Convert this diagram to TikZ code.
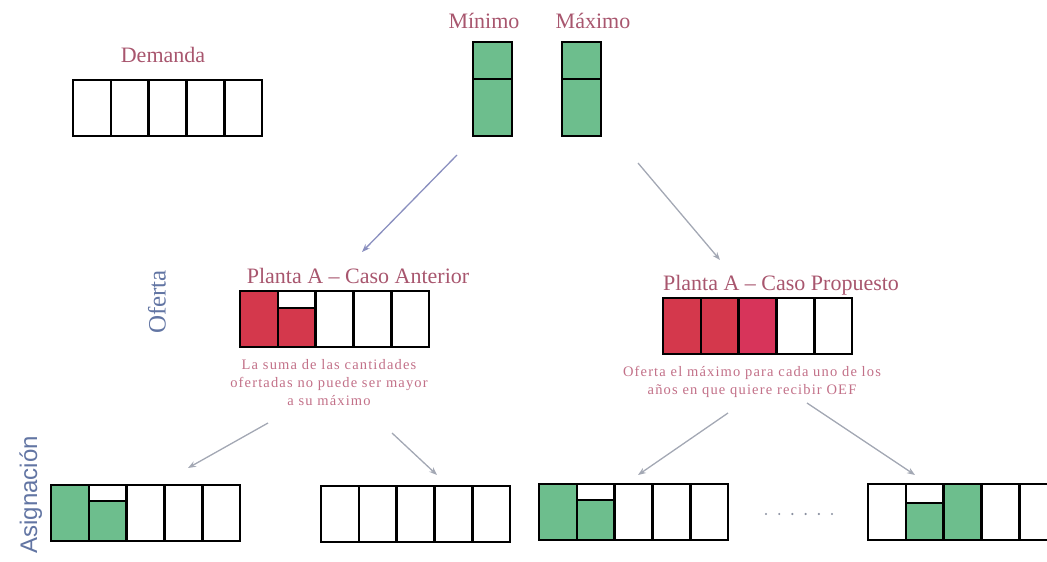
\documentclass[tikz,border=0pt]{standalone}
\usepackage{fontspec}
\setmainfont{Liberation Serif}
\setsansfont{Liberation Sans}
\newfontfamily\notefont[LetterSpace=8]{Liberation Serif}
\usetikzlibrary{arrows.meta,calc}

\definecolor{labelrose}{HTML}{A8566E}
\definecolor{noterose}{HTML}{C27088}
\definecolor{axisblue}{HTML}{6275A3}
\definecolor{cellgreen}{HTML}{6DBE8D}
\definecolor{cellred}{HTML}{D4384C}
\definecolor{arrowgray}{HTML}{A3A8B4}
\definecolor{dotgray}{HTML}{8A90A0}

\tikzset{
  cellline/.style={line width=2.6pt, black},
  strip/.style={draw, cellline, minimum width=189pt, minimum height=56pt,
                inner sep=0pt, outer sep=0pt, anchor=north west},
  column/.style={draw, cellline, minimum width=39pt, minimum height=94pt,
                inner sep=0pt, outer sep=0pt, anchor=north west},
  flow/.style={arrowgray, line width=1.3pt, -{Stealth[length=8pt,width=6pt]}},
  title/.style={text=labelrose, font=\fontsize{22}{25}\selectfont, inner sep=0pt, anchor=base},
  note/.style={text=noterose, font=\notefont\fontsize{14.5}{18}\selectfont,
               align=center, inner sep=0pt, anchor=north},
  axis/.style={text=axisblue, rotate=90, inner sep=0pt},
}

% five-cell strip: name, x and y of its top-left corner
\newcommand\cellstrip[3]{%
  \node[strip] (#1) at (#2,#3) {};
  \foreach \k in {1,...,4}
    \draw[cellline] ($(#1.north west)+(\k*37.8,0)$) -- ($(#1.south west)+(\k*37.8,0)$);
}
% filled cell: colour, strip x, strip y, cell number, empty space above the fill
\newcommand\fillcell[5]{%
  \fill[#1] ({#2+(#4-1)*37.8},{#3+#5}) rectangle ({#2+#4*37.8},{#3+56});
}
% level mark on top of a partly filled cell
\newcommand\levelmark[4]{%
  \draw[cellline] ({#1+(#3-1)*37.8},{#2+#4}) -- ({#1+#3*37.8},{#2+#4});
}

\begin{document}
\begin{tikzpicture}[x=1pt,y=-1pt]
\useasboundingbox (0,0) rectangle (1047,562);
\clip (0,0) rectangle (1047,562);

% demand
\node[title] (demlabel) at (163,62) {Demanda};
\cellstrip{demanda}{73}{80}

% minimum and maximum
\node[title] (minlabel) at (484,28) {Mínimo};
\node[title] (maxlabel) at (593,28) {Máximo};
\fill[cellgreen] (473,42) rectangle (512,136);
\fill[cellgreen] (562,42) rectangle (601,136);
\node[column] (minimo) at (473,42) {};
\node[column] (maximo) at (562,42) {};
\draw[cellline] (minimo.west |- 0,79) -- (minimo.east |- 0,79);
\draw[cellline] (maximo.west |- 0,79) -- (maximo.east |- 0,79);

% offer, previous case
\node[axis, font=\fontsize{25}{28}\selectfont] (oferta) at (157,302) {Oferta};
\node[title] (antlabel) at (358,283) {Planta A -- Caso Anterior};
\fillcell{cellred}{240}{291}{1}{0}
\fillcell{cellred}{240}{291}{2}{17}
\levelmark{240}{291}{2}{17}
\cellstrip{anterior}{240}{291}
\node[note] (antnote) at (329,359) {La suma de las cantidades\\ofertadas no puede ser mayor\\a su máximo};

% offer, proposed case
\node[title] (proplabel) at (781,290) {Planta A -- Caso Propuesto};
\fillcell{cellred}{663}{298}{1}{0}
\fillcell{cellred}{663}{298}{2}{0}
\fillcell{cellred!92!magenta}{663}{298}{3}{0}
\cellstrip{propuesto}{663}{298}
\node[note] (propnote) at (752,366) {Oferta el máximo para cada uno de los\\años en que  quiere recibir OEF};

% assignments
\node[axis, font=\sffamily\fontsize{24}{27}\selectfont, anchor=base east] (asignacion) at (37,436) {Asignación};

\fillcell{cellgreen}{51}{485}{1}{0}
\fillcell{cellgreen}{51}{485}{2}{17}
\levelmark{51}{485}{2}{16}
\cellstrip{asigA}{51}{485}

\cellstrip{asigB}{321}{486}

\fillcell{cellgreen}{539}{484}{1}{0}
\fillcell{cellgreen}{539}{484}{2}{17}
\levelmark{539}{484}{2}{16}
\cellstrip{asigC}{539}{484}

\foreach \i in {0,...,5}
  \fill[dotgray] ({766+\i*13.2},514) circle (1.2pt);
\node[inner sep=0pt] (dots) at (799,514) {};

\fillcell{cellgreen}{868}{484}{2}{19}
\levelmark{868}{484}{2}{19}
\fillcell{cellgreen}{868}{484}{3}{0}
\cellstrip{asigD}{868}{484}

% connectors
\coordinate (mm-l) at (457,155);
\coordinate (ant-in) at (362,252);
\coordinate (mm-r) at (638,163);
\coordinate (prop-in) at (720,260);
\coordinate (ant-l) at (268,423);
\coordinate (a-in) at (188,468);
\coordinate (ant-r) at (392,433);
\coordinate (b-in) at (437,475);
\coordinate (prop-l) at (728,413);
\coordinate (c-in) at (638,475);
\coordinate (prop-r) at (807,403);
\coordinate (d-in) at (915,475);

\draw[flow, arrowgray!85!blue] (mm-l) -- (ant-in);
\draw[flow] (mm-r) -- (prop-in);
\draw[flow] (ant-l) -- (a-in);
\draw[flow] (ant-r) -- (b-in);
\draw[flow] (prop-l) -- (c-in);
\draw[flow] (prop-r) -- (d-in);
\end{tikzpicture}
\end{document}
